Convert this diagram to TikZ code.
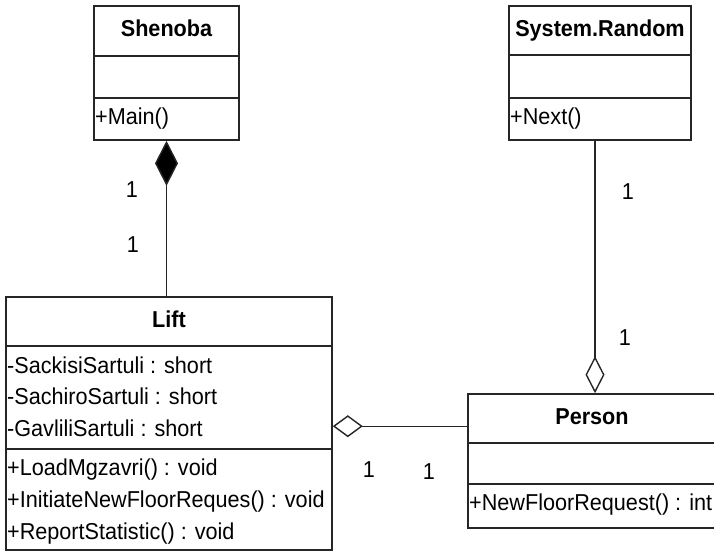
\documentclass[tikz,border=0pt]{standalone}
\usepackage{fontspec}
\setmainfont[FakeStretch=0.94]{Liberation Sans}
\usetikzlibrary{arrows.meta,calc}

\begin{document}
\begin{tikzpicture}[x=1pt,y=-1pt,
  classbox/.style={draw=black!85, line width=1.6pt, fill=white, inner sep=0pt},
  divider/.style={draw=black!85, line width=1.6pt},
  cname/.style={font=\fontsize{23}{27}\selectfont\bfseries, inner sep=0pt, anchor=base},
  member/.style={font=\fontsize{23}{27}\selectfont, inner sep=0pt, anchor=base west},
  mult/.style={font=\fontsize{23}{27}\selectfont, inner sep=0pt},
  link/.style={draw=black!85, line width=1.4pt},
]
\clip (0,0) rectangle (714,552);
\fill[white] (0,0) rectangle (714,552);

% ---- class Shenoba ----
\node[classbox, minimum width=145pt, minimum height=134pt] (shenoba) at (166.5,73) {};
\draw[divider] (shenoba.west |- 0,56) -- (shenoba.east |- 0,56);
\draw[divider] (shenoba.west |- 0,98) -- (shenoba.east |- 0,98);
\node[cname] (shenobaName) at (166.5,36) {Shenoba};
\node[member] (shenobaM1) at (95,124) {+Main()};

% ---- class System.Random ----
\node[classbox, minimum width=182pt, minimum height=134pt] (sysrand) at (600,73) {};
\draw[divider] (sysrand.west |- 0,55) -- (sysrand.east |- 0,55);
\draw[divider] (sysrand.west |- 0,98) -- (sysrand.east |- 0,98);
\node[cname] (sysrandName) at (600,36) {System.Random};
\node[member] (sysrandM1) at (510,124) {+Next()};

% ---- class Lift ----
\node[classbox, minimum width=326pt, minimum height=253pt] (lift) at (169,423.5) {};
\draw[divider] (lift.west |- 0,346) -- (lift.east |- 0,346);
\draw[divider] (lift.west |- 0,449) -- (lift.east |- 0,449);
\node[cname] (liftName) at (169,327) {Lift};
\node[member] (liftA1) at (7,373) {-SackisiSartuli : short};
\node[member] (liftA2) at (7,404.5) {-SachiroSartuli : short};
\node[member] (liftA3) at (7,436) {-GavliliSartuli : short};
\node[member] (liftM1) at (7,475) {+LoadMgzavri() : void};
\node[member] (liftM2) at (7,507) {+InitiateNewFloorReques() : void};
\node[member] (liftM3) at (7,539) {+ReportStatistic() : void};

% ---- class Person ----
\node[classbox, minimum width=248pt, minimum height=134pt] (person) at (592,461) {};
\draw[divider] (person.west |- 0,443) -- (person.east |- 0,443);
\draw[divider] (person.west |- 0,484) -- (person.east |- 0,484);
\node[cname] (personName) at (592,424) {Person};
\node[member] (personM1) at (469,510) {+NewFloorRequest() : int};

% ---- associations ----
% composition Shenoba <>-- Lift
\draw[link, {Diamond[length=45pt,width=23pt,fill=black]}-]
  (shenoba.south) -- (shenoba.south |- lift.north);
% aggregation Person <>-- System.Random
\coordinate (srFoot) at ($(sysrand.south)+(-5,0)$);
\draw[link, {Diamond[open,length=37pt,width=19pt,fill=white]}-]
  (srFoot |- person.north) -- (srFoot);
% aggregation Lift <>-- Person
\coordinate (liftSide) at ($(lift.north east)+(0,130)$);
\draw[link, {Diamond[open,length=30pt,width=22pt,fill=white]}-]
  (liftSide) -- (liftSide -| person.west);

% ---- multiplicities ----
\node[mult] (m1) at (132,190) {1};
\node[mult] (m2) at (133,245) {1};
\node[mult] (m3) at (628,192) {1};
\node[mult] (m4) at (625,338) {1};
\node[mult] (m5) at (369,470) {1};
\node[mult] (m6) at (429,472) {1};
\end{tikzpicture}
\end{document}
